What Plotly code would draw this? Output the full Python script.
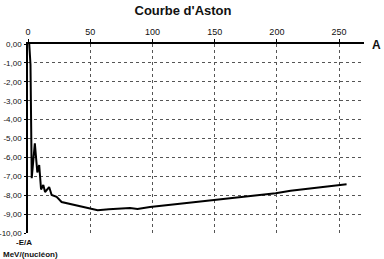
import plotly.graph_objects as go

A_values = [1, 2, 3, 5.5, 7.5, 9, 10.5, 12.3, 13.7, 17, 19, 23, 27, 34, 40, 47, 52, 56,
            65, 75, 82, 88, 98, 122, 147, 163, 183, 199, 211, 235, 256]
E_values = [0, -1.1, -7.1, -5.25, -6.8, -6.4, -7.7, -7.46, -7.83, -7.57, -7.99, -8.09, -8.36,
            -8.47, -8.57, -8.68, -8.73, -8.8, -8.74, -8.7, -8.68, -8.73, -8.62, -8.45, -8.28,
            -8.15, -8.04, -7.9, -7.76, -7.58, -7.42]

x_ticks = [0, 50, 100, 150, 200, 250]
y_ticks = [0, -1, -2, -3, -4, -5, -6, -7, -8, -9, -10]
y_tick_labels = ["0,00", "-1,00", "-2,00", "-3,00", "-4,00", "-5,00", "-6,00",
                 "-7,00", "-8,00", "-9,00", "-10,00"]

FONT = "Arial, Liberation Sans, sans-serif"

fig = go.Figure()
fig.add_trace(go.Scatter(x=A_values, y=E_values, mode="lines",
                         line=dict(color="black", width=2), showlegend=False))

fig.update_layout(
    width=384, height=259,
    margin=dict(l=28, r=20, t=44, b=26, autoexpand=False),
    paper_bgcolor="white", plot_bgcolor="white",
    font=dict(family=FONT, color="#111", size=9),
    title=dict(text="<b>Courbe d'Aston</b>", x=183/384, xanchor="center",
               xref="container", y=1 - 10/259, yanchor="middle", yref="container",
               font=dict(size=13, family=FONT, color="#111")),
    xaxis=dict(range=[0, 270], side="top", tickvals=x_ticks, automargin=False,
               showline=True, linecolor="black", linewidth=2,
               ticks="outside", ticklen=3, tickcolor="black",
               showgrid=True, gridcolor="#555", griddash="dot", gridwidth=1,
               zeroline=False, tickfont=dict(size=9, color="#111")),
    yaxis=dict(range=[-10, 0], tickvals=y_ticks, ticktext=y_tick_labels, automargin=False,
               showline=True, linecolor="black", linewidth=1.5,
               ticks="outside", ticklen=2, tickcolor="black", ticklabelstandoff=1,
               showgrid=True, gridcolor="#555", griddash="dot", gridwidth=1,
               zeroline=False, tickfont=dict(size=8, color="#111")),
    annotations=[
        dict(text="<b>A</b>", x=(376 - 28) / 336, y=1 + (44 - 45) / 189,
             xref="paper", yref="paper", showarrow=False, xanchor="center", yanchor="middle",
             font=dict(size=12, family=FONT, color="#111")),
        dict(text="<b>-E/A</b>", x=(24 - 28) / 336, y=-(242 - 233) / 189,
             xref="paper", yref="paper", showarrow=False, xanchor="center", yanchor="middle",
             font=dict(size=8, family=FONT, color="#111")),
        dict(text="<b>MeV/(nucléon)</b>", x=(30 - 28) / 336, y=-(254 - 233) / 189,
             xref="paper", yref="paper", showarrow=False, xanchor="center", yanchor="middle",
             font=dict(size=8, family=FONT, color="#111")),
    ],
)

fig.write_html("out.html")
